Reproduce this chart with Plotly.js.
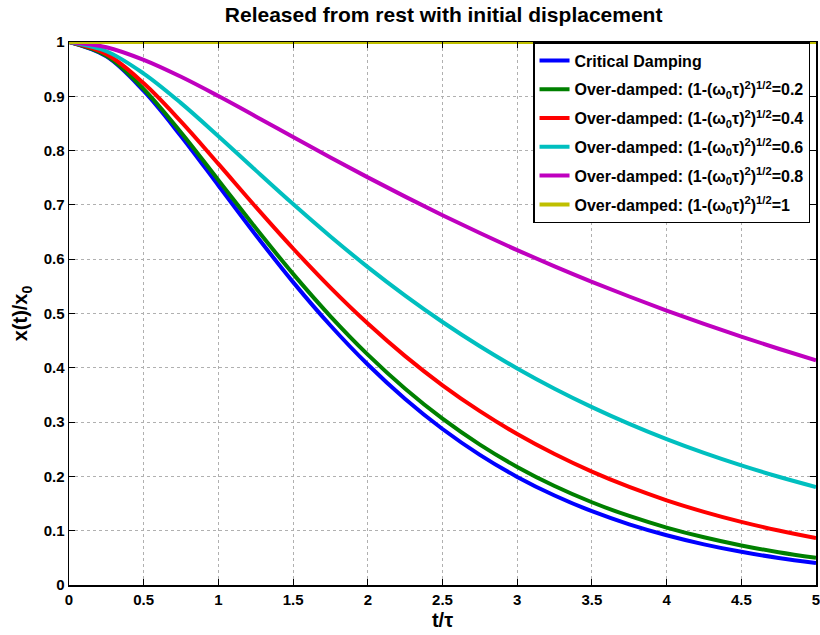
<!DOCTYPE html>
<html>
<head>
<meta charset="utf-8">
<script src="https://cdn.plot.ly/plotly-3.0.1.min.js"></script>
<style>html,body{margin:0;padding:0;background:#fff;}#chart{width:820px;height:635px;}</style>
</head>
<body>
<div id="chart"></div>
<script>
const t = [0,0.25,0.5,0.75,1,1.25,1.5,1.75,2,2.25,2.5,2.75,3,3.25,3.5,3.75,4,4.25,4.5,4.75,5];
const critical = [1,0.9735,0.9098,0.8266,0.7358,0.6446,0.5578,0.4779,0.4060,0.3425,0.2873,0.2397,0.1991,0.1648,0.1359,0.1117,0.0916,0.0749,0.0611,0.0497,0.0404];
const over02 = [1,0.9746,0.9133,0.8333,0.7456,0.6574,0.5730,0.4949,0.4243,0.3615,0.3064,0.2586,0.2175,0.1823,0.1524,0.1271,0.1058,0.0879,0.0729,0.0604,0.0500];
const over04 = [1,0.9777,0.9240,0.8534,0.7755,0.6963,0.6197,0.5477,0.4815,0.4215,0.3678,0.3201,0.2780,0.2411,0.2087,0.1805,0.1560,0.1347,0.1162,0.1003,0.0864];
const over06 = [1,0.9830,0.9419,0.8874,0.8265,0.7636,0.7015,0.6418,0.5855,0.5330,0.4844,0.4397,0.3988,0.3615,0.3276,0.2967,0.2686,0.2432,0.2202,0.1993,0.1803];
const over08 = [1,0.9904,0.9671,0.9359,0.9004,0.8630,0.8250,0.7874,0.7507,0.7152,0.6810,0.6482,0.6168,0.5869,0.5584,0.5313,0.5054,0.4808,0.4574,0.4351,0.4138];
const over10 = [1,1,1,1,1,1,1,1,1,1,1,1,1,1,1,1,1,1,1,1,1];
const seriesNames = [
  'Critical Damping',
  'Over-damped: (1-(ω<sub>0</sub>τ)<sup>2</sup>)<sup>1/2</sup>=0.2',
  'Over-damped: (1-(ω<sub>0</sub>τ)<sup>2</sup>)<sup>1/2</sup>=0.4',
  'Over-damped: (1-(ω<sub>0</sub>τ)<sup>2</sup>)<sup>1/2</sup>=0.6',
  'Over-damped: (1-(ω<sub>0</sub>τ)<sup>2</sup>)<sup>1/2</sup>=0.8',
  'Over-damped: (1-(ω<sub>0</sub>τ)<sup>2</sup>)<sup>1/2</sup>=1'
];
const seriesValues = [critical, over02, over04, over06, over08, over10];
const colors = ['#0000FF','#008000','#FF0000','#00BFBF','#BF00BF','#BFBF00'];

const font = '"Liberation Sans", Arial, sans-serif';
const traces = seriesValues.map((v, i) => ({
  x: t, y: v, name: '<b>' + seriesNames[i] + '</b>', type: 'scatter', mode: 'lines',
  legendgroup: 'g' + i,
  line: {color: colors[i], width: 4, shape: 'spline'}
}));

const axisCommon = {
  showgrid: true, gridcolor: '#b0b0b0', griddash: 'dot', gridwidth: 1,
  zeroline: false, showline: true, linecolor: '#000', linewidth: 1.5, mirror: 'ticks',
  ticks: 'inside', ticklen: 6, tickcolor: '#000', tickwidth: 1,
  ticklabeloverflow: 'allow',
  tickfont: {family: font, size: 15, color: '#000', weight: 'bold'}
};

const layout = {
  width: 820, height: 635,
  margin: {l: 69, r: 4, t: 42, b: 50},
  paper_bgcolor: '#fff', plot_bgcolor: '#fff',
  title: {text: '<b>Released from rest with initial displacement</b>', x: 0.541, xanchor: 'center', y: 0.977, yanchor: 'middle',
          font: {family: font, size: 21, color: '#000'}},
  xaxis: Object.assign({}, axisCommon, {range: [0, 5], dtick: 0.5, tick0: 0,
          title: {text: '<b>t/τ</b>', font: {family: font, size: 20, color: '#000'}, standoff: 6}}),
  yaxis: Object.assign({}, axisCommon, {range: [0, 1], dtick: 0.1, tick0: 0,
          title: {text: '<b>x(t)/x<sub>0</sub></b>', font: {family: font, size: 20, color: '#000'}, standoff: 10}}),
  legend: {x: 0.992, xanchor: 'right', y: 1, yanchor: 'top', bgcolor: '#fff', bordercolor: '#000', borderwidth: 1.5,
           font: {family: font, size: 16, color: '#000'}, tracegroupgap: 5, itemwidth: 30},
  showlegend: true
};

Plotly.newPlot('chart', traces, layout, {staticPlot: true});
</script>
</body>
</html>
